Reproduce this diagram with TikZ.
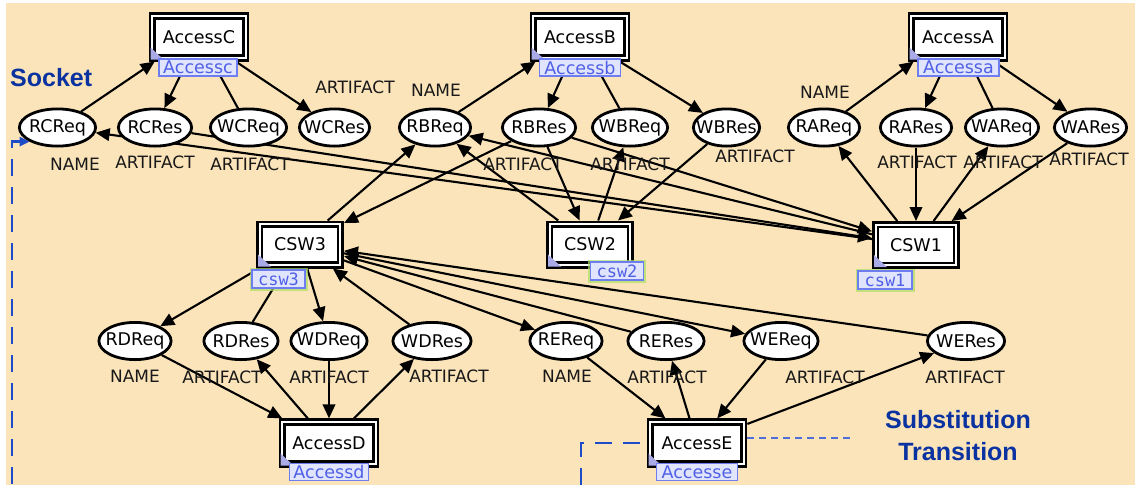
\documentclass[tikz,border=0pt]{standalone}
\usepackage{fontspec}
\setmainfont{DejaVu Sans}
\newfontfamily\cswfont{DejaVu Sans Mono}
\newfontfamily\arialfont{Liberation Sans}
\usetikzlibrary{arrows.meta,shapes.geometric}
\definecolor{bgbeige}{RGB}{251,228,186}
\definecolor{tagblue}{RGB}{80,96,230}
\definecolor{tagfill}{RGB}{224,228,252}
\definecolor{tagline}{RGB}{110,125,240}
\definecolor{glow}{RGB}{170,225,100}
\definecolor{darkblue}{RGB}{10,50,160}
\definecolor{dashblue}{RGB}{30,75,200}
\definecolor{thinblue}{RGB}{80,110,215}
\definecolor{lavender}{RGB}{170,170,230}
\pgfdeclarelayer{bg}
\pgfdeclarelayer{edges}
\pgfsetlayers{bg,edges,main}
\newcommand{\zw}[1]{\makebox[0pt]{#1}}
\begin{document}
\begin{tikzpicture}[x=1pt,y=-1pt,
  place/.style={ellipse, draw=black, line width=2.8pt, fill=white, minimum height=37.2pt, inner sep=0pt, outer sep=1.4pt, font=\fontsize{17.5}{20}\selectfont},
  trans/.style={rectangle, draw=black, line width=2.6pt, double=white, double distance=2pt, fill=white, inner sep=0pt, outer sep=3.6pt, font=\fontsize{17.5}{20}\selectfont},
  acc/.style={trans, minimum width=93.5pt, minimum height=42pt},
  cswbox/.style={trans, minimum width=80.8pt, minimum height=40.8pt},
  arc/.style={line width=2.1pt, -{Triangle[length=14pt,width=12.5pt]}},
  inscr/.style={font=\fontsize{17}{20}\selectfont, text=black!90, inner sep=0pt},
  tag/.style={draw=tagline, line width=1.2pt, fill=tagfill, text=tagblue, inner sep=0pt, minimum height=17pt, font=\fontsize{17.5}{20}\selectfont},
  csvtag/.style={tag, font=\cswfont\fontsize{17}{20}\selectfont, minimum height=18pt, preaction={draw=glow, line width=5pt, opacity=0.7}},
  subtag/.style={fill=lavender},
  sockline/.style={draw=dashblue, line width=2.6pt, dash pattern=on 17pt off 11pt},
  thinline/.style={draw=thinblue, line width=1.2pt, dash pattern=on 7pt off 5pt},
  bigtext/.style={font=\arialfont\bfseries\fontsize{25}{32}\selectfont, text=darkblue, inner sep=0pt}
]
\useasboundingbox (0,0) rectangle (1135,488);
\begin{pgfonlayer}{bg}
\fill[white] (0,0) rectangle (1135,488);
\fill[bgbeige] (6,3) rectangle (1135,485);
\end{pgfonlayer}

% transitions
\node[acc] (AC) at (199,37) {AccessC};
\node[acc] (AB) at (580,37) {AccessB};
\node[acc] (AA) at (958,37) {AccessA};
\node[acc] (AD) at (329,443) {AccessD};
\node[acc] (AE) at (697,443) {AccessE};
\node[cswbox] (CSW3) at (300,244.5) {CSW3};
\node[cswbox] (CSW2) at (590,244.5) {CSW2};
\node[cswbox] (CSW1) at (916,245) {CSW1};

% places, top row
\node[place, minimum width=76.2pt] (RCReq) at (57.5,127.5) {\zw{RCReq}};
\node[place, minimum width=73.2pt] (RCRes) at (155,127.5) {\zw{RCRes}};
\node[place, minimum width=76.2pt] (WCReq) at (248.5,127.5) {\zw{WCReq}};
\node[place, minimum width=70.2pt] (WCRes) at (334.5,127.5) {\zw{WCRes}};
\node[place, minimum width=71.2pt] (RBReq) at (435,127.5) {\zw{RBReq}};
\node[place, minimum width=73.2pt] (RBRes) at (539,127.5) {\zw{RBRes}};
\node[place, minimum width=75.2pt] (WBReq) at (630,127.5) {\zw{WBReq}};
\node[place, minimum width=66.2pt] (WBRes) at (726.5,127.5) {\zw{WBRes}};
\node[place, minimum width=71.2pt] (RAReq) at (824,127.5) {\zw{RAReq}};
\node[place, minimum width=71.2pt] (RARes) at (916,127.5) {\zw{RARes}};
\node[place, minimum width=73.2pt] (WAReq) at (1002,127.5) {\zw{WAReq}};
\node[place, minimum width=72.2pt] (WARes) at (1090.5,127.5) {\zw{WARes}};
% places, lower row
\node[place, minimum width=72.2pt] (RDReq) at (135,341) {\zw{RDReq}};
\node[place, minimum width=74.2pt] (RDRes) at (241,341) {\zw{RDRes}};
\node[place, minimum width=76.2pt] (WDReq) at (329,341) {\zw{WDReq}};
\node[place, minimum width=78.2pt] (WDRes) at (432,341) {\zw{WDRes}};
\node[place, minimum width=72.2pt] (REReq) at (566,341) {\zw{REReq}};
\node[place, minimum width=76.2pt] (RERes) at (666,341) {\zw{RERes}};
\node[place, minimum width=74.2pt] (WEReq) at (781,341) {\zw{WEReq}};
\node[place, minimum width=77.2pt] (WERes) at (966,341) {\zw{WERes}};

% arcs
\begin{pgfonlayer}{edges}
\draw[arc] (RCReq) -- ([xshift=6pt]AC.south west);
\draw[arc] (AC) -- (RCRes);
\draw[arc] (WCReq) -- (AC);
\draw[arc] (AC) -- (WCRes);
\draw[arc] (RBReq) -- ([xshift=6pt]AB.south west);
\draw[arc] (AB) -- (RBRes);
\draw[arc] (WBReq) -- (AB);
\draw[arc] (AB) -- (WBRes);
\draw[arc] (RAReq) -- ([xshift=6pt]AA.south west);
\draw[arc] (AA) -- (RARes);
\draw[arc] (WAReq) -- (AA);
\draw[arc] (AA) -- (WARes);
\draw[arc] (CSW1) -- (RCReq);
\draw[arc] (RCRes) -- (CSW1);
\draw[arc] (CSW1) -- (RBReq);
\draw[arc] (RBRes) -- (CSW1);
\draw[arc] (CSW1) -- (RAReq);
\draw[arc] (RARes) -- (CSW1);
\draw[arc] (CSW1) -- (WAReq);
\draw[arc] (WARes) -- (CSW1);
\draw[arc] (CSW2) -- (RBReq);
\draw[arc] (RBRes) -- (CSW2);
\draw[arc] (CSW2) -- (WBReq);
\draw[arc] (WBRes) -- (CSW2);
\draw[arc] (CSW3) -- (RBReq);
\draw[arc] (RBRes) -- (CSW3);
\draw[arc] (CSW3) -- (RDReq);
\draw[arc] (RDRes) -- (CSW3);
\draw[arc] (CSW3) -- (WDReq);
\draw[arc] (WDRes) -- (CSW3);
\draw[arc] (CSW3) -- (REReq);
\draw[arc] (RERes) -- (CSW3);
\draw[arc] (CSW3) -- (WEReq);
\draw[arc] (WERes) -- (CSW3);
\draw[arc] (RDReq) -- (AD);
\draw[arc] (AD) -- (RDRes);
\draw[arc] (WDReq) -- (AD);
\draw[arc] (AD) -- (WDRes);
\draw[arc] (REReq) -- (AE);
\draw[arc] (AE) -- (RERes);
\draw[arc] (WEReq) -- (AE);
\draw[arc] (AE) -- (WERes);
\end{pgfonlayer}

% substitution tags (small triangles)
\foreach \t in {AC,AB,AA,AD,AE,CSW3,CSW2,CSW1}{
  \fill[subtag] ([shift={(2,-2)}]\t.south west) -- ([shift={(2,-14)}]\t.south west) -- ([shift={(15,-2)}]\t.south west) -- cycle;
}

% hierarchy labels
\node[tag, minimum width=78pt] (ACl) at (198,67.5) {Accessc};
\node[tag, minimum width=81pt] (ABl) at (580,67.5) {Accessb};
\node[tag, minimum width=81pt] (AAl) at (958.5,67.5) {Accessa};
\node[tag, minimum width=79pt] (ADl) at (329,472) {Accessd};
\node[tag, minimum width=81pt] (AEl) at (697,472) {Accesse};
\node[csvtag, minimum width=53pt] (CSW3l) at (278.5,279) {csw3};
\node[csvtag, minimum width=53pt] (CSW2l) at (617,271) {csw2};
\node[csvtag, minimum width=54pt] (CSW1l) at (885,280) {csw1};

% inscriptions
\node[inscr] (i1) at (75,164) {NAME};
\node[inscr] (i2) at (155,162) {ARTIFACT};
\node[inscr] (i3) at (250,164) {ARTIFACT};
\node[inscr] (i4) at (355,87) {ARTIFACT};
\node[inscr] (i5) at (436,90) {NAME};
\node[inscr] (i6) at (523,164) {ARTIFACT};
\node[inscr] (i7) at (630,164) {ARTIFACT};
\node[inscr] (i8) at (755,156) {ARTIFACT};
\node[inscr] (i9) at (825,92) {NAME};
\node[inscr] (i10) at (917,162) {ARTIFACT};
\node[inscr] (i11) at (1003,162) {ARTIFACT};
\node[inscr] (i12) at (1089,159) {ARTIFACT};
\node[inscr] (i13) at (135,376) {NAME};
\node[inscr] (i14) at (222,377) {ARTIFACT};
\node[inscr] (i15) at (329,377) {ARTIFACT};
\node[inscr] (i16) at (449,376) {ARTIFACT};
\node[inscr] (i17) at (567,376) {NAME};
\node[inscr] (i18) at (667,377) {ARTIFACT};
\node[inscr] (i19) at (825,377) {ARTIFACT};
\node[inscr] (i20) at (965,377) {ARTIFACT};

% annotations
\node[bigtext, anchor=west] (socket) at (10,78) {Socket};
\node[bigtext, align=center] (subst) at (958,436) {Substitution\\Transition};
\coordinate (sockbot) at (12,484);
\draw[sockline, -{Triangle[length=10pt,width=9pt]}] (sockbot) |- (RCReq.south west);
\coordinate (ebot) at (581,485);
\draw[sockline] (ebot) |- (AE.west);
\coordinate (subend) at (851,438);
\draw[thinline] ([yshift=5pt]AE.east) -- (subend);
\end{tikzpicture}
\end{document}
